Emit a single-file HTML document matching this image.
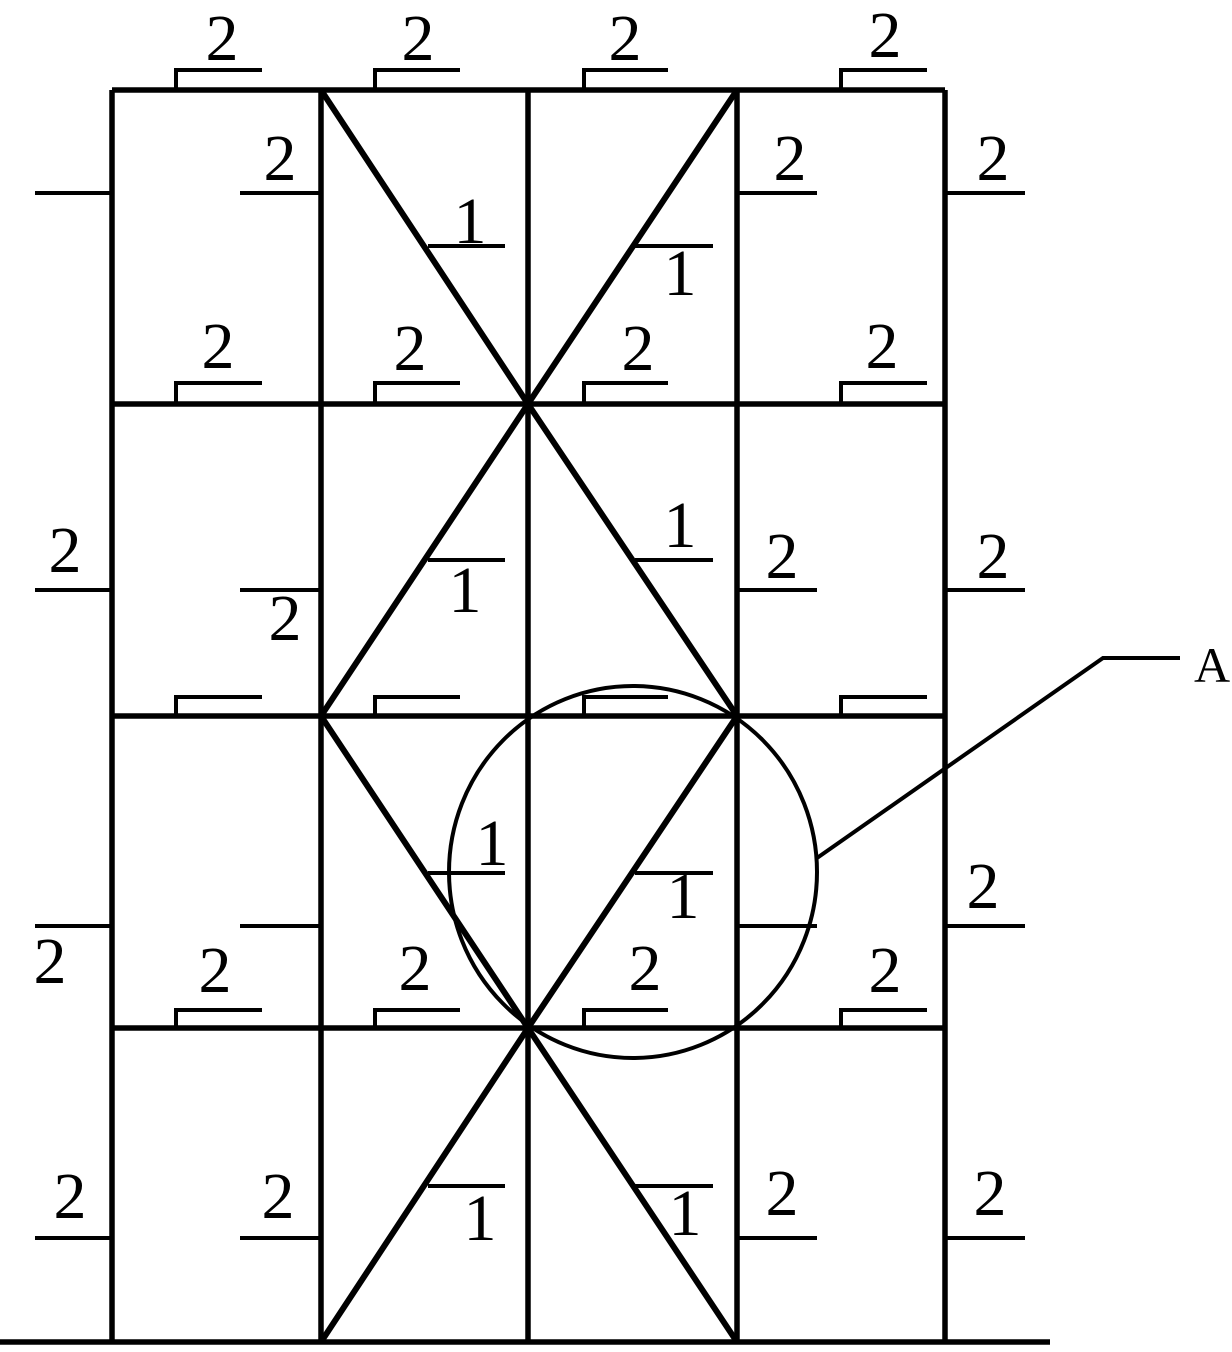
<!DOCTYPE html><html><head><style>body{margin:0;background:#fff}svg{display:block}text{font-family:"Liberation Serif",serif;font-size:66px;text-anchor:middle}</style></head><body>
<svg width="1232" height="1352" viewBox="0 0 1232 1352">
<g stroke="#000" stroke-width="5.5" fill="none">
<path d="M112 90H945M112 404H945M112 716H945M112 1028H945M0 1342H1050"/>
<path d="M112 90V1342M321 90V1342M528 90V1342M737 90V1342M945 90V1342"/>
</g>
<g stroke="#000" stroke-width="6" fill="none">
<path d="M321 90L528 404L737 90M321 716L528 404L737 716M321 716L528 1028L737 716M321 1342L528 1028L737 1342"/>
</g>
<g stroke="#000" stroke-width="4" fill="none">
<path d="M176 90V70H262M375 90V70H460M584 90V70H668M841 90V70H927"/>
<path d="M176 404V383H262M375 404V383H460M584 404V383H668M841 404V383H927"/>
<path d="M176 716V697H262M375 716V697H460M584 716V697H668M841 716V697H927"/>
<path d="M176 1028V1010H262M375 1028V1010H460M584 1028V1010H668M841 1028V1010H927"/>
<path d="M35 193H112M240 193H321M737 193H817M945 193H1025"/>
<path d="M35 590H112M240 590H321M737 590H817M945 590H1025"/>
<path d="M35 926H112M240 926H321M737 926H817M945 926H1025"/>
<path d="M35 1238H112M240 1238H321M737 1238H817M945 1238H1025"/>
<path d="M428 246H505M635 246H713M428 560H505M635 560H713M428 873H505M635 873H713M428 1186H505M635 1186H713"/>
<ellipse cx="633" cy="872" rx="184" ry="186"/>
<path d="M817 858L1103 658H1180"/>
</g>
<g fill="#000">
<text x="222" y="60">2</text><text x="418" y="60">2</text><text x="625" y="60">2</text><text x="885" y="57">2</text>
<text x="218" y="368">2</text><text x="410" y="370">2</text><text x="638" y="370">2</text><text x="882" y="368">2</text>
<text x="215" y="992">2</text><text x="415" y="990">2</text><text x="645" y="990">2</text><text x="885" y="992">2</text>
<text x="280" y="180">2</text><text x="790" y="180">2</text><text x="993" y="180">2</text>
<text x="470" y="243">1</text><text x="680" y="295">1</text>
<text x="65" y="572">2</text><text x="285" y="640">2</text><text x="465" y="612">1</text><text x="680" y="547">1</text><text x="782" y="578">2</text><text x="993" y="578">2</text>
<text x="50" y="983">2</text><text x="492" y="865">1</text><text x="683" y="918">1</text><text x="983" y="908">2</text>
<text x="70" y="1218">2</text><text x="278" y="1218">2</text><text x="480" y="1240">1</text><text x="685" y="1235">1</text><text x="782" y="1215">2</text><text x="990" y="1215">2</text>
<text x="1212" y="682" style="font-size:50px">A</text>
</g>
</svg></body></html>
